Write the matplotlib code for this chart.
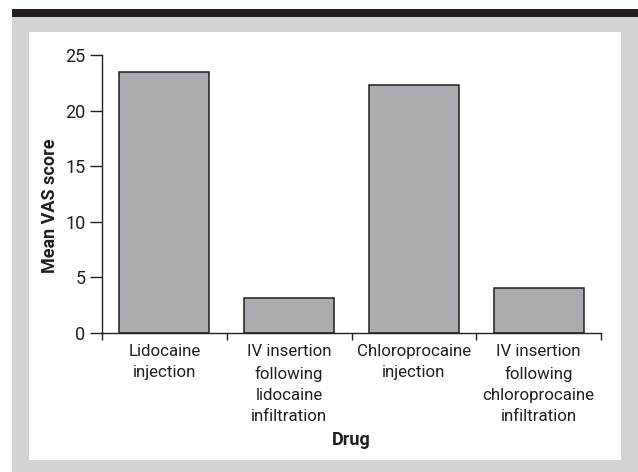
import numpy as np
import matplotlib.pyplot as plt
from matplotlib.patches import Rectangle

drugs = ['Lidocaine\ninjection',
         'IV insertion\nfollowing\nlidocaine\ninfiltration',
         'Chloroprocaine\ninjection',
         'IV insertion\nfollowing\nchloroprocaine\ninfiltration']
vas = [23.45, 3.15, 22.3, 4.07]
yticks = [0, 5, 10, 15, 20, 25]

W, H = 638, 472
ink = '#231f20'
plt.rcParams['font.family'] = ['Roboto', 'DejaVu Sans']


def box(x0, y0, x1, y1, color):
    # pixel box (top-left origin) -> figure fraction rectangle
    return Rectangle((x0 / W, 1 - y1 / H), (x1 - x0) / W, (y1 - y0) / H,
                     transform=fig.transFigure, facecolor=color,
                     edgecolor='none', zorder=-10)


fig = plt.figure(figsize=(W / 100, H / 100), dpi=100)
fig.patches.append(box(12, 17, 638, 472, '#d1d3d4'))
fig.patches.append(box(12, 9, 638, 17, ink))
fig.patches.append(box(29, 32, 621, 460, 'white'))

ax = fig.add_axes([102 / W, 1 - 333 / H, (601 - 102) / W, (333 - 55) / H])
ax.patch.set_alpha(0)

x = np.arange(len(drugs))
ax.bar(x, vas, width=0.72, color='#abacb0', edgecolor=ink, linewidth=1.1)

ax.set_xlim(-0.5, len(drugs) - 0.5)
ax.set_ylim(0, 25)
ax.set_yticks(yticks)
ax.set_xticks(np.arange(len(drugs) + 1) - 0.5)
ax.set_xticklabels([])
ax.set_xticks(x, minor=True)
ax.set_xticklabels(drugs, minor=True, fontsize=12.2, color=ink, linespacing=1.5)
ax.tick_params(axis='x', which='major', length=5, width=1, color=ink, direction='out')
ax.tick_params(axis='x', which='minor', length=0, pad=8)
ax.tick_params(axis='y', length=9, width=1, color=ink, labelsize=13,
               labelcolor=ink, pad=3)

for s in ['top', 'right']:
    ax.spines[s].set_visible(False)
for s in ['left', 'bottom']:
    ax.spines[s].set_color(ink)
    ax.spines[s].set_linewidth(1)

ax.set_ylabel('Mean VAS score', fontsize=13, fontweight='bold', color=ink)
ax.yaxis.set_label_coords(-0.086, 0.457)
ax.set_xlabel('Drug', fontsize=13, fontweight='bold', color=ink)
ax.xaxis.set_label_coords(0.5, -0.352)

fig.savefig('out.png', dpi=100)
